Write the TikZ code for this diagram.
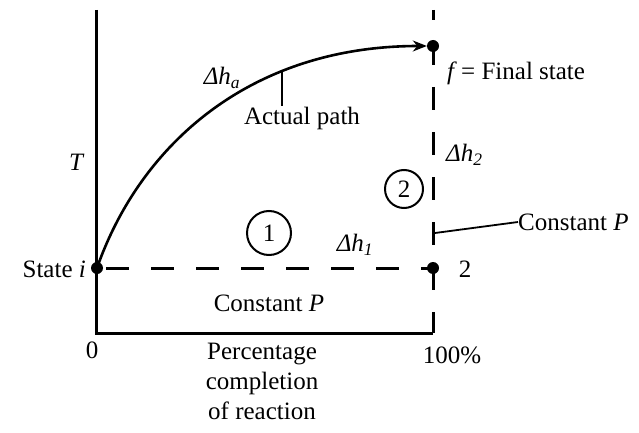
\documentclass[tikz,border=0pt]{standalone}
\usepackage{fontspec}
\setmainfont{Liberation Serif}
\usetikzlibrary{arrows.meta}
\begin{document}
\begin{tikzpicture}[x=1pt,y=-1pt,
  font=\fontsize{25}{30}\selectfont,
  axis/.style={line width=3pt},
  dashline/.style={line width=3pt, dash pattern=on 23pt off 22pt},
  dot/.style={circle, fill=black, inner sep=0pt, minimum size=12pt},
  numcirc/.style={circle, draw, line width=2pt, inner sep=0pt, minimum size=38pt},
  lbl/.style={inner sep=0pt}]
\useasboundingbox (0,0) rectangle (639,433);
% points
\coordinate (top) at (96,10);
\coordinate (origin) at (96,333);
\coordinate (end) at (433,333);
\coordinate (dtop) at (433,10);
\node[dot] (i) at (97,268) {};
\node[dot] (f) at (433,46) {};
\node[dot] (two) at (433,268) {};
% axes
\draw[axis] (top) -- (origin) -- (end);
\draw[dashline, dash phase=13pt] (dtop) -- (end);
\draw[dashline, dash phase=36pt] (i.center) -- (two.center);
% actual path
\draw[line width=2.6pt, -{Stealth[length=14pt,width=11pt]}]
  (i.center) .. controls (140,145) and (250,46) .. (f.west);
% labels
\node[lbl] (T) at (76,162) {\itshape T};
\node[lbl] (dha) at (222,78) {\itshape Δh\textsubscript{a}};
\node[lbl] (ap) at (302,118) {Actual path};
\coordinate (apc) at (282,70);
\draw[line width=1.8pt] (apc) -- (ap.north -| apc);
\node[lbl, anchor=west] (fs) at (447,73) {\itshape f\/\upshape\,=\ Final state};
\node[lbl, anchor=west] (dh2) at (446,155) {\itshape Δh\textsubscript{2}};
\node[numcirc] (c2) at (404,189) {2};
\node[numcirc, minimum width=44pt, minimum height=40pt] (c1) at (269,233) {1};
\node[lbl, anchor=west] (cp1) at (518,222) {Constant \itshape P};
\coordinate (cpl) at (435,233);
\draw[line width=1.8pt] (cpl) -- (cp1.west);
\node[lbl, anchor=east] (si) at (86,269) {State \itshape i};
\node[lbl] (dh1) at (355,245) {\itshape Δh\textsubscript{1}};
\node[lbl] (l2) at (465,269) {2};
\node[lbl] (cp2) at (269,303) {Constant \itshape P};
\node[lbl] (zero) at (92,350) {0};
\node[lbl] (hund) at (452,355) {100\%};
\node[lbl, align=center, anchor=north] (pc) at (262,343) {Percentage\\completion\\of reaction};
\end{tikzpicture}
\end{document}
